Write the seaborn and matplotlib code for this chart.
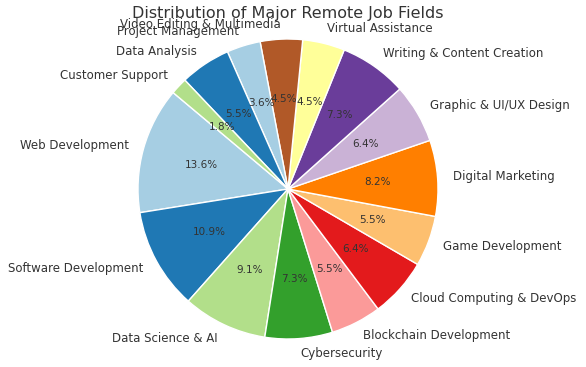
"""Pie chart of major remote job fields."""

import matplotlib
matplotlib.use("Agg")
import matplotlib.pyplot as plt
import seaborn as sns

# counterclockwise from the first wedge
fields = [
    "Web Development",
    "Software Development",
    "Data Science & AI",
    "Cybersecurity",
    "Blockchain Development",
    "Cloud Computing & DevOps",
    "Game Development",
    "Digital Marketing",
    "Graphic & UI/UX Design",
    "Writing & Content Creation",
    "Virtual Assistance",
    "Video Editing & Multimedia",
    "Project Management",
    "Data Analysis",
    "Customer Support",
]
job_counts = [15, 12, 10, 8, 6, 7, 6, 9, 7, 8, 5, 5, 4, 6, 2]


def main():
    sns.set_theme(style="white")
    plt.rcParams["text.color"] = "#333333"
    colors = sns.color_palette("Paired", len(fields))

    fig = plt.figure(figsize=(5.86, 3.67), dpi=100)
    # pie radius 150 px, centre at (288, 189) from top-left
    ax = fig.add_axes([100.5 / 586, -9.5 / 367, 375 / 586, 375 / 367])

    _, texts, autotexts = ax.pie(
        job_counts,
        labels=fields,
        colors=colors,
        autopct="%1.1f%%",
        startangle=140,
        textprops={"fontsize": 8.5},
    )
    for t in autotexts:
        t.set_fontsize(7.5)

    ax.set_xlim(-1.25, 1.25)
    ax.set_ylim(-1.25, 1.25)
    ax.set_aspect("equal")
    ax.set_title("Distribution of Major Remote Job Fields", fontsize=11.5,
                 color="#333333", y=0.9547, pad=0)

    fig.savefig("out.png", dpi=100)
    plt.close(fig)


if __name__ == "__main__":
    main()
